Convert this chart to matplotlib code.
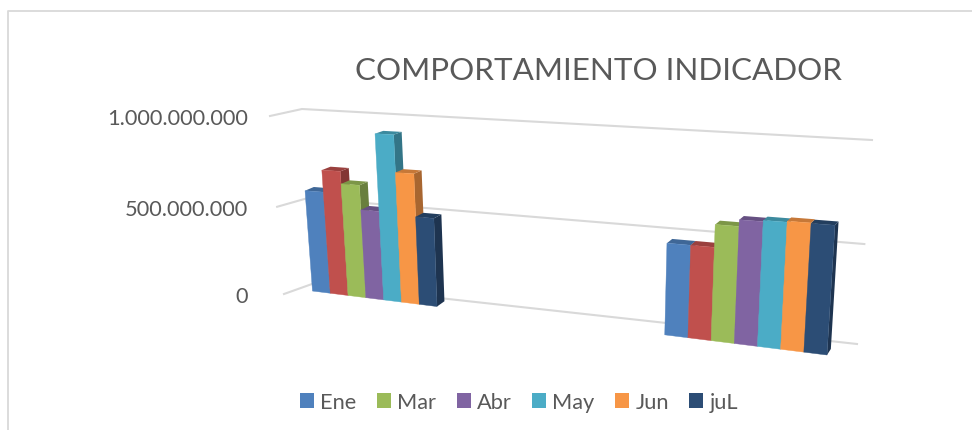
import numpy as np
import matplotlib
matplotlib.use("Agg")
import matplotlib.pyplot as plt
from matplotlib.patches import Polygon, Patch
import matplotlib.colors as mc

plt.rcParams['font.family'] = ['Lato', 'DejaVu Sans']

title = "COMPORTAMIENTO INDICADOR"
series_names = ["Ene", "Feb", "Mar", "Abr", "May", "Jun", "juL"]
legend_hidden = ["Feb"]
colors = ["#4F81BD", "#C0504D", "#9BBB59", "#8064A2", "#4BACC6", "#F79646", "#2C4D75"]
ticks = [0, 500000000, 1000000000]
tick_labels = ["0", "500.000.000", "1.000.000.000"]
group1 = [580e6, 703e6, 634e6, 498e6, 920e6, 718e6, 486e6]
group2 = [464e6, 464e6, 575e6, 607e6, 613e6, 618e6, 616e6]
ymax = 1e9

# 3-D view: each plane is (base at f=0, base change over f, up at f=0, up change over f), in pixels
WALL = ((312, 285), (545, 60), (-10, -175), (25, -29))
SIDE_END = ((284, 295), (0, 0), (-14, -178), (0, 0))
BAR_BACK = ((312, 285.9), (545, 67.3), (-13, -173), (27, -39))
BAR_FRONT = ((303.4, 290.9), (550, 68.4), (-13.5, -175.3), (28, -40.6))


def proj(plane, f, z):
    b0, db, u0, du = plane
    zw = z - 0.04 * z * (1 - z)
    return (b0[0] + f * db[0] + zw * (u0[0] + f * du[0]),
            b0[1] + f * db[1] + zw * (u0[1] + f * du[1]))


def shade(c, f):
    return tuple(v * f for v in mc.to_rgb(c))


fig = plt.figure(figsize=(9.72, 4.31), dpi=100, facecolor="white")
ax = fig.add_axes([0, 0, 1, 1])
ax.set_xlim(0, 972)
ax.set_ylim(431, 0)
ax.axis("off")

# outer frame
ax.plot([8, 8, 972], [431, 12, 12], color="#D9D9D9", lw=1.3)

# gridlines and labels
for t, lab in zip(ticks, tick_labels):
    z = t / ymax
    pts = [proj(SIDE_END, 0, z), proj(WALL, 0, z), proj(WALL, 1, z)]
    ax.plot(*zip(*pts), color="#D9D9D9", lw=1.5, solid_joinstyle="miter")
    ax.text(248, pts[0][1] + 2, lab, ha="right", va="center", color="#595959", fontsize=15.7)

# bars
layout = [(0.0165, 0.2265, group1), (0.657, 0.295, group2)]
for start, width, vals in layout:
    w = width / len(vals)
    for i, v in enumerate(vals):
        f0, f1 = start + i * w, start + (i + 1) * w
        z = v / ymax
        c = colors[i]
        top = [proj(BAR_FRONT, f0, z), proj(BAR_FRONT, f1, z), proj(BAR_BACK, f1, z), proj(BAR_BACK, f0, z)]
        side = [proj(BAR_FRONT, f1, 0), proj(BAR_FRONT, f1, z), proj(BAR_BACK, f1, z), proj(BAR_BACK, f1, 0)]
        front = [proj(BAR_FRONT, f0, 0), proj(BAR_FRONT, f1, 0), proj(BAR_FRONT, f1, z), proj(BAR_FRONT, f0, z)]
        ax.add_patch(Polygon(side, fc=shade(c, .68), ec="none", zorder=3 + i))
        ax.add_patch(Polygon(top, fc=shade(c, .8), ec="none", zorder=3 + i))
        ax.add_patch(Polygon(front, fc=c, ec=c, lw=.3, zorder=3 + i))

ax.text(598, 71, title, ha="center", va="center", color="#595959", fontsize=22.6)

handles = [Patch(fc=c, label=n) for n, c in zip(series_names, colors) if n not in legend_hidden]
ax.legend(handles=handles, ncol=6, loc="center", bbox_to_anchor=(519 / 972, 1 - 403 / 431),
          frameon=False, fontsize=15.7, labelcolor="#595959", handlelength=0.64, handleheight=0.64,
          handletextpad=0.28, columnspacing=0.95, borderpad=0)

fig.savefig("out.png", dpi=100)
